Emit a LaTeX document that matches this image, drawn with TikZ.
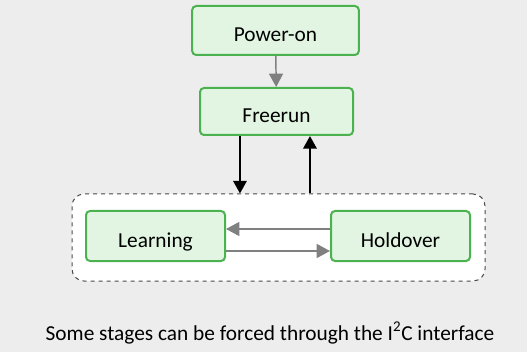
\documentclass[tikz,border=0pt]{standalone}
\usepackage{fontspec}
\setmainfont{Carlito}
\definecolor{PanelGrey}{RGB}{237,237,237}
\definecolor{StageGreen}{RGB}{76,178,80}
\definecolor{StageFill}{RGB}{226,245,226}
\definecolor{LinkGrey}{RGB}{128,128,128}
\usetikzlibrary{arrows.meta,positioning,calc}
\tikzset{
  stage/.style={draw=StageGreen,fill=StageFill,line width=1.5pt,rounded corners=3pt,minimum height=36pt,align=center,text height=17pt,text depth=0pt,font=\fontsize{16}{19}\selectfont},
  group/.style={draw=black!70,fill=white,dashed,line width=0.75pt,rounded corners=9pt},
  garrow/.style={-{Triangle[length=10pt,width=10.5pt]},line width=1.1pt,draw=LinkGrey,fill=LinkGrey},
  barrow/.style={-{Triangle[length=9.5pt,width=10pt]},line width=1.8pt,draw=black},
}
\begin{document}
\begin{tikzpicture}[x=0.75pt,y=-0.75pt]
    \fill[PanelGrey] (0,0) rectangle (527,352);
    \useasboundingbox (0,0) rectangle (527,352);
    % dashed frame round the two inner stages
    \node[group,minimum width=309.75pt,minimum height=65.25pt] (loop) at (278.5,237.5) {};
    \node[stage,minimum width=125pt,minimum height=36.75pt] (power) at (275.5,30.5) {Power-on};
    \node[stage,minimum width=114.75pt,minimum height=35.25pt] (free) at (276.5,111.5) {Freerun};
    \node[stage,minimum width=104.25pt,minimum height=37.5pt] (learn) at (155.5,236) {Learning};
    \node[stage,minimum width=104.25pt,minimum height=37.5pt] (hold) at (400.5,236) {Holdover};
    \node[font=\fontsize{16}{19}\selectfont] (note) at (270,333) {Some stages can be forced through the I\textsuperscript{2}C interface};
    \draw[garrow] (power) -- (free);
    \draw[barrow] ([xshift=-27.4pt]free.south) -- ([xshift=-27.4pt]free.south |- loop.north);
    \draw[barrow] ([xshift=25.1pt]free.south |- loop.north) -- ([xshift=25.1pt]free.south);
    \draw[garrow] ([yshift=5.25pt]hold.west) -- ([yshift=5.25pt]learn.east);
    \draw[garrow] ([yshift=-11.25pt]learn.east) -- ([yshift=-11.25pt]hold.west);
  \end{tikzpicture}
\end{document}
